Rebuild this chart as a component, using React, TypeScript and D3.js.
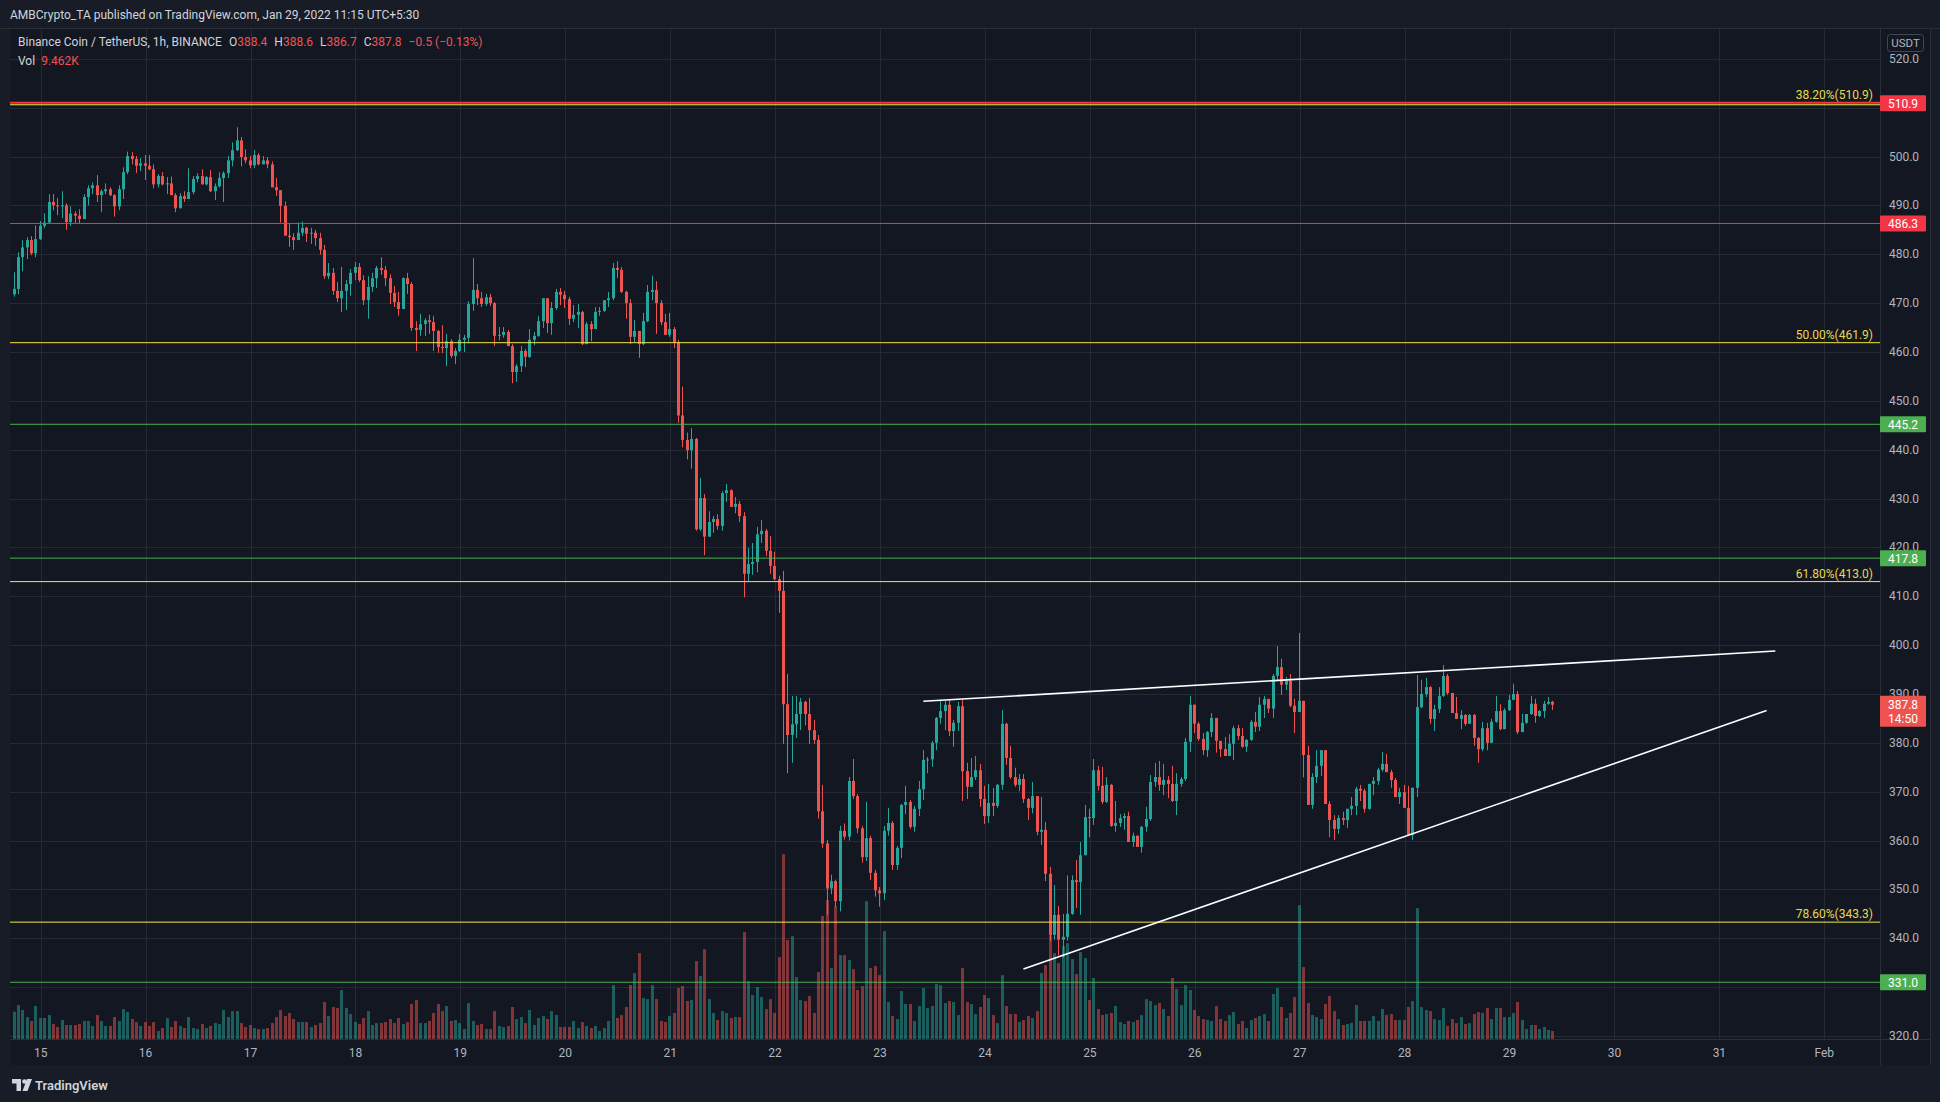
import React, { useRef, useEffect } from "react";
import * as d3 from "d3";

// BNB/USDT 1h bars, first bar opens Jan 14 ~18:00 (UTC+5:30), last is the live Jan 29 10:30 bar
const FIRST_OPEN = 471.8;
const FIRST_BAR_HOUR = -6.2; // hours from Jan 15 00:00

const closes = [
  472.9,479.4,481.4,482.9,480.2,483.1,485.8,486.5,490.7,490.0,489.8,490.0,486.6,488.3,487.9,487.2,491.7,493.5,494.1,492.1,
  492.9,493.3,492.1,489.8,493.3,496.8,500.1,499.5,498.1,498.6,498.1,497.4,494.3,496.0,494.3,494.5,492.1,489.4,491.9,491.3,
  492.7,495.4,496.0,494.3,495.8,492.9,493.9,495.6,496.6,499.2,501.3,503.3,499.9,499.2,498.2,500.3,498.4,499.2,498.4,493.7,
  493.1,489.9,483.8,483.5,482.9,484.4,485.4,484.2,484.4,483.3,480.9,475.5,476.2,472.5,471.0,472.5,473.9,476.2,477.4,474.7,
  470.6,473.3,475.1,477.2,476.8,475.1,472.1,470.2,468.8,475.1,473.9,464.9,464.5,465.7,466.5,466.1,464.3,461.0,460.8,462.2,
  459.2,460.2,462.5,462.9,469.8,472.7,471.0,469.8,471.2,470.0,463.3,463.5,464.1,461.2,455.9,457.1,460.2,459.0,462.5,463.3,
  466.3,471.0,465.9,469.0,472.3,471.7,470.8,466.8,467.6,468.2,461.6,465.7,464.7,468.2,468.4,470.6,471.0,477.2,476.8,472.3,
  470.0,463.1,464.3,461.6,466.3,472.3,472.7,470.0,466.1,463.5,464.7,462.0,447.0,442.0,439.9,442.2,423.7,430.1,422.2,425.2,
  425.8,424.4,431.1,431.7,428.3,428.9,426.4,414.6,416.6,417.0,422.7,423.4,419.3,416.2,413.5,411.1,387.9,381.6,383.8,385.9,
  388.4,385.9,382.6,380.6,366.0,359.4,350.2,351.7,347.6,362.0,360.8,372.2,369.1,362.5,356.6,360.5,353.4,349.8,349.2,362.0,
  363.6,355.0,358.5,367.3,367.9,362.8,366.5,370.5,376.5,376.6,380.0,385.1,386.5,387.8,382.4,384.1,387.5,374.2,371.0,373.0,
  374.4,368.5,365.0,367.7,367.1,371.4,383.9,376.9,373.0,371.4,372.6,368.5,366.7,369.1,361.8,362.2,353.2,340.7,344.8,339.7,
  340.3,345.0,351.9,351.5,357.0,364.8,364.6,374.4,371.2,367.9,371.4,363.0,363.6,364.6,365.0,359.7,361.0,358.7,362.8,364.4,
  372.0,373.0,371.4,372.4,371.6,368.1,371.6,372.6,380.2,387.8,383.9,380.8,378.5,382.2,385.1,380.4,378.7,377.3,379.8,383.0,
  381.4,379.2,380.6,384.3,383.3,387.8,389.0,387.0,393.7,395.5,391.9,392.7,387.6,386.3,388.6,377.5,367.3,373.0,375.3,378.5,
  367.5,364.2,362.4,364.6,364.2,366.5,367.1,370.6,370.2,366.5,371.6,372.2,374.5,375.7,374.0,372.4,368.9,369.9,366.7,361.1,
  370.8,387.3,390.0,391.4,384.9,386.9,389.6,393.7,390.2,386.1,384.9,385.7,383.9,385.7,381.0,378.7,383.0,380.0,384.3,386.5,
  382.8,386.7,388.8,390.0,382.2,384.1,385.9,388.0,385.5,386.5,388.0,388.4,387.8,
];

const highs = [
  476.3,480.4,482.9,483.5,483.7,485.9,486.8,488.4,492.3,492.3,491.5,492.9,490.4,489.8,488.8,489.2,492.3,494.1,494.7,496.2,
  493.3,494.5,493.7,492.3,494.1,497.8,501.0,500.9,500.1,499.7,500.3,500.3,498.4,496.4,496.8,495.8,495.9,492.5,492.5,492.9,
  497.6,496.0,496.6,497.4,496.0,497.2,494.5,496.8,497.0,500.1,502.9,506.0,504.0,501.5,500.1,501.3,500.7,500.1,499.9,499.0,
  495.6,493.1,490.8,486.2,484.3,486.5,486.7,485.6,485.4,485.0,484.4,481.9,478.2,477.2,474.3,477.4,474.7,477.0,478.4,478.2,
  475.7,475.5,476.2,477.6,479.4,477.6,475.9,473.5,472.3,475.3,476.2,474.3,466.3,467.8,466.9,467.6,467.4,464.5,465.5,463.7,
  462.6,460.8,463.7,463.5,470.4,479.2,473.9,472.3,471.9,471.9,470.2,465.1,465.1,464.5,461.6,457.5,461.2,460.6,464.7,464.1,
  467.4,471.0,471.0,470.2,472.9,473.1,472.5,471.3,469.6,469.8,468.4,466.1,466.3,469.2,469.2,470.6,472.3,478.2,478.6,477.4,
  472.5,470.8,466.5,464.3,468.0,473.7,475.6,474.5,470.6,467.8,468.0,465.1,462.5,452.9,443.5,444.4,442.4,434.2,430.9,427.4,
  426.4,426.8,431.5,433.0,431.9,430.3,429.5,427.2,419.9,420.9,424.2,425.6,423.8,422.3,419.1,414.2,415.2,394.1,389.6,389.6,
  389.2,388.6,389.2,384.7,381.6,371.4,360.1,353.0,352.0,363.0,363.5,373.0,376.7,369.5,363.0,367.9,361.0,354.0,350.5,363.0,
  366.7,364.0,358.9,367.5,371.2,368.3,367.1,372.2,378.5,377.1,380.4,385.3,388.8,388.6,388.8,384.7,388.4,388.8,375.9,376.9,
  377.3,375.7,371.2,371.6,370.8,371.6,386.7,384.1,379.4,374.9,373.6,373.6,368.7,372.0,369.1,368.9,363.8,354.6,350.9,346.6,
  345.0,352.9,352.9,356.0,359.7,367.3,366.5,376.7,375.3,375.1,373.0,371.6,368.1,365.4,365.6,365.9,361.6,361.0,363.0,366.9,
  373.4,375.9,376.3,375.7,373.2,375.3,373.8,373.0,381.0,389.6,387.8,384.3,382.0,382.4,386.1,385.1,380.0,381.2,381.8,383.5,
  383.7,383.0,380.8,384.7,386.3,389.4,389.6,389.0,394.1,399.8,397.2,393.5,394.1,389.0,402.5,388.6,379.4,373.8,378.5,378.5,
  378.5,368.1,365.2,365.2,365.9,366.5,368.9,371.0,371.4,370.6,371.6,373.0,374.9,378.1,377.7,374.5,372.8,370.8,371.4,371.2,
  370.8,393.9,392.9,393.3,391.6,387.8,391.4,395.9,394.1,390.2,389.4,386.7,385.9,385.9,385.9,381.2,384.3,384.1,384.9,389.6,
  387.9,387.1,389.8,392.1,390.6,385.9,385.9,389.6,389.0,386.7,388.6,389.4,388.6,
];

const lows = [
  471.3,471.8,476.5,479.0,479.8,479.4,482.9,485.3,486.2,489.0,488.0,487.4,485.0,485.8,486.3,486.3,487.2,490.0,492.3,490.7,
  488.6,492.3,491.9,487.7,489.0,491.3,496.4,498.4,496.6,497.0,495.2,497.2,493.5,493.7,494.1,492.3,492.1,488.6,489.4,490.7,
  491.3,492.3,494.7,494.3,494.1,492.7,491.1,493.7,490.7,495.6,498.0,501.1,498.0,498.6,497.6,497.6,498.2,498.4,497.6,493.7,
  491.9,486.5,483.8,481.5,480.9,482.9,483.7,482.5,482.1,481.7,479.9,474.9,474.9,471.7,470.2,468.2,468.6,471.5,474.7,474.3,
  469.6,466.8,472.3,473.1,475.8,473.5,469.8,469.2,467.4,468.8,471.9,464.3,460.2,463.3,463.3,463.7,460.2,459.8,459.8,457.1,
  458.8,457.5,460.0,460.0,461.8,468.4,469.6,469.2,469.4,469.4,461.2,462.4,462.9,461.2,453.6,453.9,455.9,456.9,458.8,461.4,
  463.1,464.9,463.9,463.5,468.6,469.6,469.0,465.5,466.1,464.9,461.4,461.6,462.2,464.7,467.4,468.2,469.2,470.6,475.1,472.1,
  466.8,461.6,462.0,458.8,461.4,466.1,470.6,463.7,465.5,463.5,463.1,460.8,445.5,440.5,438.0,436.1,423.4,423.4,418.4,422.2,
  423.0,423.6,423.4,429.3,428.3,427.0,425.2,409.8,413.1,414.4,414.9,420.9,418.2,414.6,413.3,406.6,379.8,373.8,375.9,381.0,
  382.6,383.6,379.8,379.8,364.5,358.5,344.8,349.0,346.4,345.5,360.2,360.0,368.5,361.5,355.5,355.8,351.9,348.5,346.5,347.8,
  361.0,354.0,354.0,356.4,365.4,362.4,361.8,365.0,368.3,373.8,375.1,378.5,383.9,382.6,381.4,379.2,382.4,368.1,368.5,371.0,
  372.4,366.9,363.4,363.6,365.0,366.7,370.4,375.5,372.6,371.0,370.1,367.7,364.2,365.6,361.1,359.1,351.7,339.4,339.7,336.5,
  336.0,339.5,344.8,346.2,344.8,357.0,360.7,363.2,370.2,367.5,367.7,362.8,361.8,362.8,362.2,359.7,358.7,358.7,357.5,361.8,
  364.0,371.0,370.2,369.3,368.7,367.9,365.2,371.0,372.2,378.1,382.0,380.4,377.5,377.1,381.2,378.0,377.1,377.3,377.3,376.5,
  380.6,379.0,378.1,380.4,382.2,382.4,385.1,386.1,385.1,392.9,389.8,390.8,387.3,382.0,386.3,372.9,367.3,366.5,371.8,373.2,
  367.5,360.7,360.1,361.4,363.2,362.6,365.2,365.2,368.1,365.7,366.3,369.3,371.4,374.1,374.0,370.8,368.9,367.5,366.7,361.1,
  360.1,368.9,387.1,389.4,383.9,382.4,386.1,389.4,389.8,386.1,384.9,382.8,383.5,383.9,379.4,375.9,378.3,378.5,380.2,384.1,
  382.6,383.0,386.5,388.8,381.8,382.2,383.9,385.7,384.1,385.3,385.1,387.8,386.7,
];

// volume in thousands of BNB
const volumes = [
  32.3,40.2,34.3,26.0,21.3,39.1,24.9,24.9,28.4,17.8,14.2,22.5,16.6,16.6,16.6,17.8,21.3,21.3,15.4,28.4,
  21.3,15.4,15.4,26.0,21.3,35.5,32.0,23.7,20.1,15.4,20.1,15.4,20.1,9.5,13.0,24.9,14.2,21.3,15.4,13.0,
  26.0,13.0,11.8,17.8,13.0,15.4,18.9,17.8,34.3,26.0,33.1,33.1,18.9,14.2,16.6,13.0,11.8,11.8,13.0,18.9,
  26.0,34.3,27.2,30.8,23.7,20.1,20.1,20.1,14.2,16.6,18.9,43.8,27.2,37.9,36.7,58.0,36.7,29.6,20.1,17.8,
  24.9,33.1,16.6,18.9,18.9,20.1,23.7,18.9,24.9,17.8,20.1,41.4,46.2,18.9,18.9,21.3,30.8,41.4,33.1,39.1,
  21.3,22.5,18.9,11.8,42.6,21.3,16.6,17.8,11.8,11.8,33.1,15.4,14.2,15.4,37.9,23.7,26.0,18.9,34.3,16.6,
  24.9,27.2,23.7,33.1,28.4,14.2,14.2,14.2,21.3,13.0,20.1,15.4,13.0,15.4,9.5,13.0,21.3,63.9,24.9,28.4,
  37.9,63.9,78.1,101.8,48.5,47.3,63.9,47.3,21.3,20.1,27.2,30.8,60.4,62.7,45.0,46.2,92.3,74.6,106.5,47.3,
  30.8,22.5,33.1,30.8,24.9,26.0,26.0,126.6,68.6,52.1,61.5,49.7,35.5,47.3,30.8,97.0,218.9,117.2,121.9,73.4,
  46.2,45.0,50.9,30.8,79.3,145.6,164.5,84.0,157.4,99.4,99.4,93.5,82.8,58.0,62.7,163.3,84.0,86.4,75.7,127.8,
  43.8,27.2,23.7,56.8,41.4,41.4,21.3,39.1,60.4,36.7,39.1,65.1,63.9,42.6,45.0,43.8,28.4,84.0,43.8,41.4,
  29.6,37.9,52.1,48.5,28.4,18.9,75.7,39.1,29.6,29.6,20.1,22.5,27.2,24.9,33.1,78.1,87.6,123.1,101.8,89.9,
  110.1,113.6,94.7,76.9,103.0,95.9,46.2,72.2,35.5,28.4,29.6,30.8,39.1,20.1,17.8,21.3,20.1,22.5,28.4,47.3,
  45.0,40.2,42.6,35.5,27.2,72.2,59.2,40.2,63.9,58.0,34.3,27.2,23.7,22.5,21.3,39.1,23.7,21.3,28.4,32.0,
  17.8,21.3,13.0,22.5,24.9,27.2,29.6,21.3,53.3,60.4,37.9,24.9,30.8,49.7,158.6,85.2,42.6,28.4,26.0,23.7,
  41.4,50.9,33.1,23.7,16.6,17.8,18.9,40.2,21.3,21.3,21.3,27.2,21.3,35.5,28.4,29.6,22.5,22.5,22.5,37.9,
  45.0,155.0,37.9,34.3,33.1,23.7,22.5,36.7,15.4,23.7,18.9,26.0,17.8,18.9,29.6,32.0,30.8,36.7,23.7,36.7,
  36.7,26.0,26.0,30.8,43.8,22.5,11.8,16.6,16.6,11.8,14.2,10.7,9.462,
];

const priceTicks = [320, 330, 340, 350, 360, 370, 380, 390, 400, 410, 420, 430, 440, 450, 460, 470, 480, 490, 500, 510, 520];
const dayLabels = ["15", "16", "17", "18", "19", "20", "21", "22", "23", "24", "25", "26", "27", "28", "29", "30", "31", "Feb"];

const levels = [
  { price: 510.9, color: "#f23645", width: 2 },
  { price: 486.3, color: "#f23645", width: 1 },
  { price: 445.2, color: "#4caf50", width: 1 },
  { price: 417.8, color: "#4caf50", width: 1 },
  { price: 331.0, color: "#4caf50", width: 1 },
];
const fibs = [
  { price: 510.9, label: "38.20%(510.9)" },
  { price: 461.9, label: "50.00%(461.9)" },
  { price: 413.0, label: "61.80%(413.0)" },
  { price: 343.3, label: "78.60%(343.3)" },
];
// trendlines as [hour from Jan 15 00:00, price]
const trendlines = [
  [[201.9, 388.5], [396.8, 398.8]],
  [[224.8, 333.7], [394.8, 386.6]],
];
const legendOHLC = [["O", "388.4"], ["H", "388.6"], ["L", "386.7"], ["C", "387.8"]];
const legendChange = "\u22120.5 (\u22120.13%)";
const legendVol = "9.462K";
const lastPrice = 387.8;
const countdown = "14:50";

const FONT = "Roboto, 'Liberation Sans', Arial, sans-serif";
const UP = "#26a69a";
const DOWN = "#ef5350";

const App = () => {
  const ref = useRef(null);

  useEffect(() => {
    document.body.style.margin = "0";
    const width = 1940;
    const height = 1102;
    const left = 10, right = 1880, top = 29, bottom = 1039;

    const x = d3.scaleLinear().domain([0, 408]).range([40.7, 1824.3]);
    const y = d3.scaleLinear().domain([320, 520]).range([1036, 58.8]);
    const yVol = d3.scaleLinear().domain([0, 250]).range([bottom, bottom - 211]);

    const n = Math.min(closes.length, highs.length, lows.length, volumes.length);
    const bars = d3.range(n).map(i => {
      const o = i === 0 ? FIRST_OPEN : closes[i - 1];
      const c = closes[i];
      return {
        h: FIRST_BAR_HOUR + i,
        o, c,
        hi: Math.max(highs[i], o, c),
        lo: Math.min(lows[i], o, c),
        v: volumes[i],
      };
    });

    const svg = d3.select(ref.current);
    svg.selectAll("*").remove();
    svg.attr("width", width).attr("height", height).attr("style", `display:block; font-family:${FONT};`);

    svg.append("rect").attr("width", width).attr("height", height).attr("fill", "#181c27");
    svg.append("rect").attr("x", left).attr("y", top).attr("width", 1930 - left).attr("height", 1065 - top)
      .attr("fill", "#131722");

    svg.append("defs").append("clipPath").attr("id", "pane")
      .append("rect").attr("x", left).attr("y", top).attr("width", right - left).attr("height", bottom - top);

    const pane = svg.append("g").attr("clip-path", "url(#pane)");

    // grid
    pane.append("g").selectAll("line").data(priceTicks).join("line")
      .attr("x1", left).attr("x2", right)
      .attr("y1", d => Math.round(y(d)) + 0.5).attr("y2", d => Math.round(y(d)) + 0.5)
      .attr("stroke", "#262a35");
    pane.append("g").selectAll("line").data(dayLabels).join("line")
      .attr("x1", (d, i) => Math.round(x(i * 24)) + 0.5).attr("x2", (d, i) => Math.round(x(i * 24)) + 0.5)
      .attr("y1", top).attr("y2", bottom)
      .attr("stroke", "#262a35");

    // volume
    pane.append("g").selectAll("rect").data(bars).join("rect")
      .attr("x", d => Math.round(x(d.h)) - 1).attr("width", 3)
      .attr("y", d => yVol(d.v)).attr("height", d => bottom - yVol(d.v))
      .attr("fill", d => d.c >= d.o ? "rgba(38,166,154,0.5)" : "rgba(239,83,80,0.5)");

    // candles
    const candle = pane.append("g").selectAll("g").data(bars).join("g");
    candle.append("line")
      .attr("x1", d => Math.round(x(d.h)) + 0.5).attr("x2", d => Math.round(x(d.h)) + 0.5)
      .attr("y1", d => y(d.hi)).attr("y2", d => y(d.lo))
      .attr("stroke", d => d.c >= d.o ? UP : DOWN);
    candle.append("rect")
      .attr("x", d => Math.round(x(d.h)) - 1).attr("width", 3)
      .attr("y", d => y(Math.max(d.o, d.c)))
      .attr("height", d => Math.max(1, Math.abs(y(d.o) - y(d.c))))
      .attr("fill", d => d.c >= d.o ? UP : DOWN);

    // fib levels
    fibs.forEach(f => {
      const yy = y(f.price) + (f.price === 510.9 ? 1.5 : 0);
      pane.append("line").attr("x1", left).attr("x2", right).attr("y1", yy).attr("y2", yy)
        .attr("stroke", "#f5e345").attr("stroke-width", 1);
      pane.append("text").attr("x", 1873).attr("y", y(f.price) - 4).attr("text-anchor", "end")
        .attr("font-size", 12).attr("fill", "#e9d94a").text(f.label);
    });

    // horizontal levels
    levels.forEach(l => {
      const yy = y(l.price) - (l.price === 510.9 ? 0.5 : 0);
      pane.append("line").attr("x1", left).attr("x2", right).attr("y1", yy).attr("y2", yy)
        .attr("stroke", l.color).attr("stroke-width", l.width);
    });

    // trendlines
    const line = d3.line().x(d => x(d[0])).y(d => y(d[1]));
    pane.append("g").selectAll("path").data(trendlines).join("path")
      .attr("d", line).attr("fill", "none").attr("stroke", "#ffffff").attr("stroke-width", 1.6);

    // borders
    svg.append("line").attr("x1", right + 0.5).attr("x2", right + 0.5).attr("y1", top).attr("y2", 1065).attr("stroke", "#2a2e39");
    svg.append("line").attr("x1", 1930.5).attr("x2", 1930.5).attr("y1", top).attr("y2", 1065).attr("stroke", "#2a2e39");
    svg.append("line").attr("x1", left).attr("x2", 1930).attr("y1", bottom + 0.5).attr("y2", bottom + 0.5).attr("stroke", "#2a2e39");
    svg.append("line").attr("x1", 0).attr("x2", width).attr("y1", top - 0.5).attr("y2", top - 0.5).attr("stroke", "#2a2e39");

    // price axis (labels that sit right under a level box are hidden, as on the chart)
    const boxPrices = levels.map(l => l.price);
    const axisTicks = priceTicks.filter(p => !boxPrices.some(b => Math.abs(y(b) - y(p)) < 9));
    svg.append("g").selectAll("text").data(axisTicks).join("text")
      .attr("x", 1904).attr("y", d => y(d) + 4).attr("text-anchor", "middle")
      .attr("font-size", 12).attr("fill", "#b2b5be").text(d => d.toFixed(1));

    const usdt = svg.append("g");
    usdt.append("rect").attr("x", 1887.5).attr("y", 34.5).attr("width", 36).attr("height", 17).attr("rx", 3)
      .attr("fill", "#131722").attr("stroke", "#434651");
    usdt.append("text").attr("x", 1905.5).attr("y", 47).attr("text-anchor", "middle")
      .attr("font-size", 11.5).attr("fill", "#b2b5be").text("USDT");

    levels.forEach(l => {
      const g = svg.append("g");
      g.append("rect").attr("x", right).attr("y", y(l.price) - 8).attr("width", 46).attr("height", 16)
        .attr("rx", 1).attr("fill", l.color);
      g.append("text").attr("x", 1903).attr("y", y(l.price) + 4.5).attr("text-anchor", "middle")
        .attr("font-size", 12).attr("fill", "#ffffff").text(l.price.toFixed(1));
    });

    const cp = svg.append("g");
    cp.append("rect").attr("x", right).attr("y", y(lastPrice) - 9).attr("width", 46).attr("height", 31)
      .attr("rx", 1).attr("fill", DOWN);
    cp.append("text").attr("x", 1903).attr("y", y(lastPrice) + 4).attr("text-anchor", "middle")
      .attr("font-size", 12).attr("fill", "#ffffff").text(lastPrice.toFixed(1));
    cp.append("text").attr("x", 1903).attr("y", y(lastPrice) + 18).attr("text-anchor", "middle")
      .attr("font-size", 12).attr("fill", "#ffffff").text(countdown);

    // time axis
    svg.append("g").selectAll("text").data(dayLabels).join("text")
      .attr("x", (d, i) => x(i * 24)).attr("y", 1057).attr("text-anchor", "middle")
      .attr("font-size", 12).attr("fill", "#b2b5be").text(d => d);

    // header + legend
    svg.append("text").attr("x", 10).attr("y", 19).attr("font-size", 12).attr("fill", "#d1d4dc")
      .text("AMBCrypto_TA published on TradingView.com, Jan 29, 2022 11:15 UTC+5:30");

    const legend = svg.append("text").attr("x", 18).attr("y", 46).attr("font-size", 12).attr("fill", "#d1d4dc");
    legend.append("tspan").text("Binance Coin / TetherUS, 1h, BINANCE");
    legendOHLC.forEach(([k, v]) => {
      legend.append("tspan").attr("dx", 7).text(k);
      legend.append("tspan").attr("fill", DOWN).text(v);
    });
    legend.append("tspan").attr("dx", 7).attr("fill", DOWN).text(legendChange);

    const vol = svg.append("text").attr("x", 18).attr("y", 65).attr("font-size", 12).attr("fill", "#d1d4dc");
    vol.append("tspan").text("Vol");
    vol.append("tspan").attr("dx", 6).attr("fill", DOWN).text(legendVol);

    // logo
    const logo = svg.append("g").attr("fill", "#d1d4dc");
    logo.append("path").attr("d", "M12 1079h9v12h-4.5v-7.5H12z");
    logo.append("circle").attr("cx", 24.5).attr("cy", 1081.5).attr("r", 2.3);
    logo.append("path").attr("d", "M27 1079h5l-4.5 12h-5z");
    logo.append("text").attr("x", 35).attr("y", 1090).attr("font-size", 13).attr("font-weight", 600)
      .text("TradingView");
  }, []);

  return <svg ref={ref} />;
};

export default App;
